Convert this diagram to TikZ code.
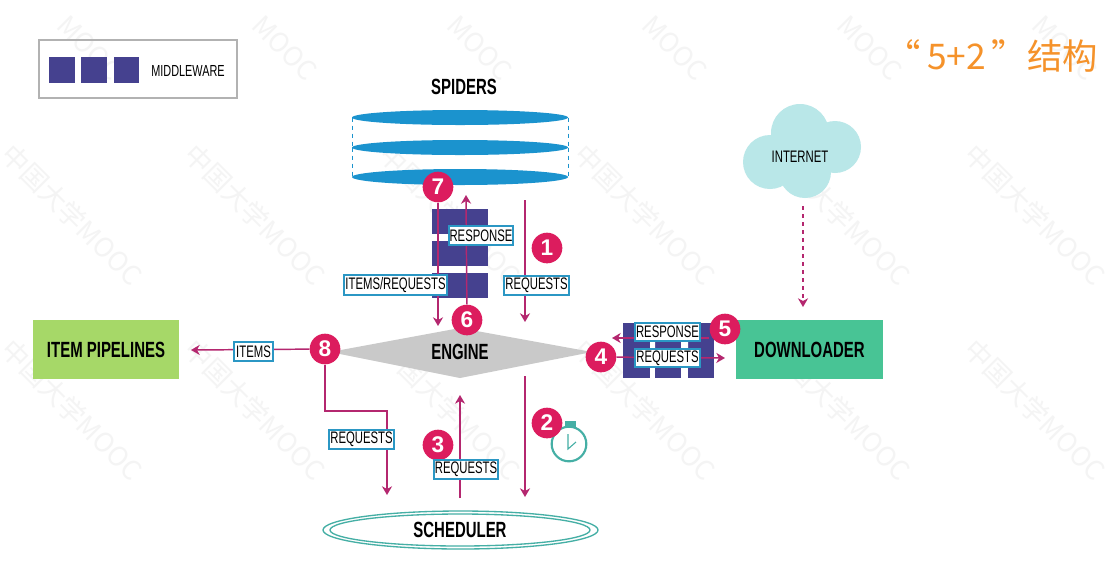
\documentclass[tikz,border=0pt]{standalone}
\usepackage{fontspec}
\usetikzlibrary{shapes.geometric,arrows.meta}
\setmainfont{Liberation Sans}
\newfontfamily\cond[FakeStretch=0.68]{Liberation Sans}
\newfontfamily\condb[FakeStretch=0.68]{Liberation Sans}
\newfontfamily\cjk{Noto Sans CJK SC}
\definecolor{mw}{HTML}{45418F}
\definecolor{arrowc}{HTML}{B4276F}
\definecolor{badge}{HTML}{DC1C5E}
\definecolor{spider}{HTML}{1B93CE}
\definecolor{lblb}{HTML}{2B97C4}
\definecolor{sched}{HTML}{45AFA5}
\definecolor{engine}{HTML}{C9C9C9}
\definecolor{pipe}{HTML}{A6D868}
\definecolor{down}{HTML}{48C495}
\definecolor{cloudc}{HTML}{B9E7E8}
\definecolor{orangec}{HTML}{F5922A}
\definecolor{wm}{HTML}{F4F4F4}
\tikzset{
  mwbox/.style={fill=mw},
  lbl/.style={draw=lblb,line width=1.2pt,fill=white,font=\cond\fontsize{12.5}{12.5}\selectfont,text=black},
  title/.style={font=\condb\bfseries\fontsize{16.5}{16.5}\selectfont,text=black},
  flow/.style={draw=arrowc,line width=1.1pt,-{Stealth[length=6.5pt,width=7.5pt,inset=2pt]}},
  num/.style={circle,fill=badge,text=white,minimum size=23pt,inner sep=0pt,font=\bfseries\fontsize{17}{17}\selectfont},
  wmtext/.style={text=wm,rotate=-45,font=\cjk\fontsize{20}{20}\selectfont},
  spid/.style={ellipse,fill=spider},
  sch/.style={ellipse,draw=sched,line width=1pt},
}
\newcommand\pxbox[7]{%
  \pgfmathsetlengthmacro\bw{(#5-#3)*0.75pt}%
  \pgfmathsetlengthmacro\bh{(#6-#4)*0.75pt}%
  \node[#2,minimum width=\bw,minimum height=\bh,inner sep=0pt,outer sep=0pt] (#1) at ({(#3+#5)/2},{(#4+#6)/2}) {#7};}
\begin{document}
\begin{tikzpicture}[x=0.75pt,y=-0.75pt]
\useasboundingbox (0,0) rectangle (1117,587);
\fill[white] (0,0) rectangle (1117,587);
% watermarks
\foreach \wx/\wy/\wi in {255/215/g,450/215/h,645/215/i,840/215/j,1035/215/k,72/215/l,
  72/410/m,255/410/n,450/410/o,645/410/p,840/410/q,1035/410/r}
  \node[wmtext] (wm\wi) at (\wx,\wy) {中国大学MOOC};
\foreach \wx/\wi in {90/s,285/t,480/u,675/v,870/w,1065/x}
  \node[wmtext] (wm\wi) at (\wx,48) {MOOC};
% legend
\pxbox{legend}{draw=black!30,line width=1pt}{39}{40}{237}{98}{}
\pxbox{la}{mwbox}{49}{57}{75}{83}{}
\pxbox{lb}{mwbox}{81}{57}{107}{83}{}
\pxbox{lc}{mwbox}{114}{57}{139}{83}{}
\node[font=\cond\fontsize{12}{12}\selectfont] (lt) at (188,71) {MIDDLEWARE};
% title
\node[text=orangec,font=\cjk\fontsize{26.5}{26.5}\selectfont,anchor=east,inner sep=0pt] (head) at (1098,56) {“\,5+2\,”结构};
% spiders
\node[title] (sp) at (464,87) {SPIDERS};
\pxbox{s1}{spid}{352}{110}{568}{125}{}
\pxbox{s2}{spid}{352}{140}{568}{155}{}
\pxbox{s3}{spid}{352}{169}{568}{185}{}
\draw[spider,dashed,line width=.7pt] (s1.west) -- (s2.west) (s2.west) -- (s3.west) (s1.east) -- (s2.east) (s2.east) -- (s3.east);
% spider middleware
\pxbox{m1}{mwbox}{432}{209}{488}{234}{}
\pxbox{m2}{mwbox}{432}{241}{488}{266}{}
\pxbox{m3}{mwbox}{432}{273}{488}{298}{}
% cloud
\fill[cloudc] (770,162) circle[radius=27] (800,133) circle[radius=29] (835,147) circle[radius=26] (805,172) circle[radius=26];
\node[font=\cond\fontsize{12.5}{12.5}\selectfont] (inet) at (800,157) {INTERNET};
% blocks
\pxbox{pipes}{fill=pipe,title}{33}{320}{179}{379}{ITEM PIPELINES}
\pxbox{down}{fill=down,title}{736}{320}{883}{379}{DOWNLOADER}
% engine
\fill[engine] (330,352) coordinate (el) -- (460,328) coordinate (et) -- (592,352) coordinate (er) -- (460,378) coordinate (eb) -- cycle;
\node[title] (eng) at (460,352) {ENGINE};
% downloader middleware
\pxbox{d0}{mwbox}{623}{323}{714}{348}{}
\pxbox{d1}{mwbox}{623}{345}{650}{378}{}
\pxbox{d2}{mwbox}{655}{345}{681}{378}{}
\pxbox{d3}{mwbox}{688}{345}{714}{378}{}
\fill[white] (650,341) rectangle (655,348) (681,341) rectangle (688,348);
% scheduler
\pxbox{sc1}{sch}{323}{511}{598}{549}{}
\pxbox{sc2}{sch}{330}{514}{590}{546}{}
\node[title] (sct) at (460,530) {SCHEDULER};
% clock
\node[circle,draw=sched,line width=1.6pt,minimum size=26pt,inner sep=0pt] (clock) at (569,444) {};
\pxbox{knob}{fill=sched}{565}{421}{576}{427}{}
\coordinate (ch1) at (568,434); \coordinate (ch2) at (568,449); \coordinate (ch3) at (576,442);
\draw[sched,line width=.8pt] (ch1) -- (ch2) -- (ch3);
% badges
\node[num] (n1) at (547,248) {1};
\node[num] (n2) at (547,423) {2};
\node[num] (n3) at (438,445) {3};
\node[num] (n4) at (601,357) {4};
\node[num] (n5) at (725,329) {5};
\node[num] (n6) at (467,320) {6};
\node[num] (n7) at (438,187) {7};
\node[num] (n8) at (325,349) {8};
% free ends
\coordinate (a1s) at (525,200); \coordinate (a1e) at (525,322);
\coordinate (a2s) at (525,376); \coordinate (a2e) at (525,497);
\coordinate (a3s) at (460,498); \coordinate (a3e) at (460,395);
\coordinate (a6e) at (466,195);
\coordinate (a7e) at (438,326);
\coordinate (a8e) at (191,350);
\coordinate (a8c) at (325,411); \coordinate (a8d) at (387,411); \coordinate (a8f) at (387,495);
\coordinate (a4e) at (725,358);
\coordinate (a5e) at (612,338);
\coordinate (is) at (803,206); \coordinate (ie) at (803,307);
\draw[flow] (a1s) -- (a1e);
\draw[flow] (a2s) -- (a2e);
\draw[flow] (a3s) -- (a3e);
\draw[flow] (n6) -- (a6e);
\draw[flow] (n7) -- (a7e);
\draw[flow] (n8) -- (a8e);
\draw[flow] (n8) -- (a8c) -- (a8d) -- (a8f);
\draw[flow] (n4) -- (a4e);
\draw[flow] (n5.west |- a5e) -- (a5e);
\draw[flow,dashed] (is) -- (ie);
% labels
\pxbox{l1}{lbl}{449}{226}{513}{245}{RESPONSE}
\pxbox{l2}{lbl}{344}{275}{447}{295}{ITEMS/REQUESTS}
\pxbox{l3}{lbl}{504}{276}{569}{295}{REQUESTS}
\pxbox{l4}{lbl}{234}{342}{273}{361}{ITEMS}
\pxbox{l5}{lbl}{635}{323}{700}{341}{RESPONSE}
\pxbox{l6}{lbl}{635}{349}{700}{367}{REQUESTS}
\pxbox{l7}{lbl}{329}{430}{394}{449}{REQUESTS}
\pxbox{l8}{lbl}{434}{460}{498}{479}{REQUESTS}
\end{tikzpicture}
\end{document}
